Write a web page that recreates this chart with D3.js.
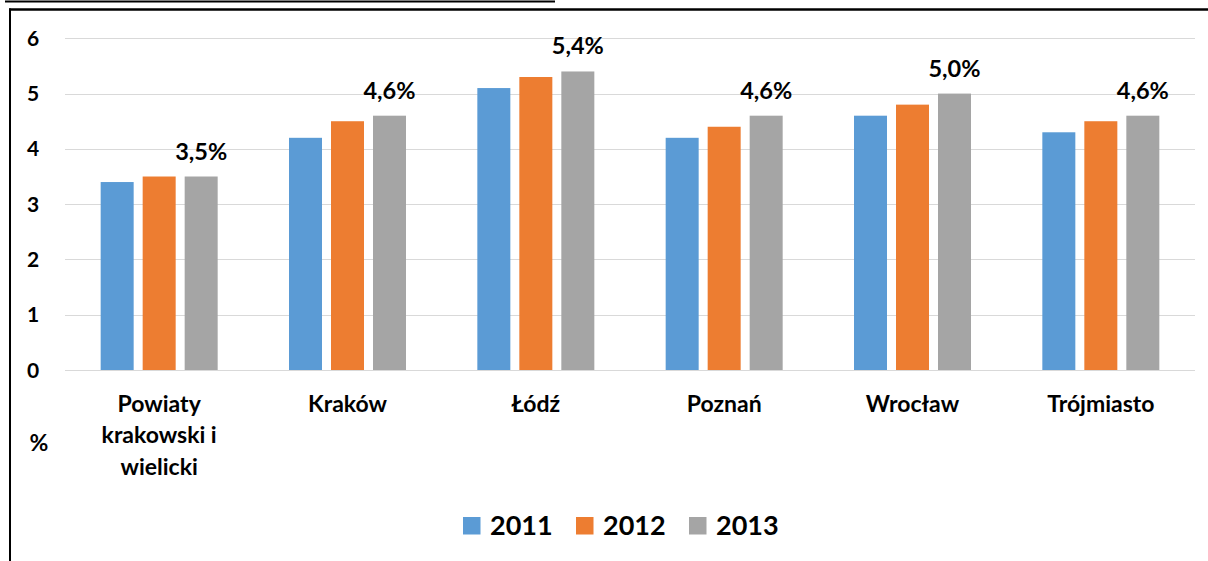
<!DOCTYPE html>
<html>
<head>
<meta charset="utf-8">
<script src="https://d3js.org/d3.v7.min.js"></script>
<style>
  body { margin: 0; background: #fff; }
  svg { display: block; font-family: Lato, "Open Sans", sans-serif; font-weight: bold; }
  .grid line { stroke: #d9d9d9; stroke-width: 1; }
</style>
</head>
<body>
<svg width="1208" height="561"></svg>
<script>
// chart data
var categories = ["Powiaty krakowski i wielicki", "Kraków", "Łódź", "Poznań", "Wrocław", "Trójmiasto"];
var years = ["2011", "2012", "2013"];
var v2011 = [3.4, 4.2, 5.1, 4.2, 4.6, 4.3];
var v2012 = [3.5, 4.5, 5.3, 4.4, 4.8, 4.5];
var v2013 = [3.5, 4.6, 5.4, 4.6, 5.0, 4.6];
var yTicks = [0, 1, 2, 3, 4, 5, 6];
var colors = ["#5b9bd5", "#ed7d31", "#a5a5a5"];

var series = [v2011, v2012, v2013];
var svg = d3.select("svg");

// frame pieces
svg.append("line").attr("x1", 5).attr("x2", 555).attr("y1", 1.5).attr("y2", 1.5)
  .attr("stroke", "#000").attr("stroke-width", 2);
svg.append("line").attr("x1", 9).attr("x2", 1208).attr("y1", 9.5).attr("y2", 9.5)
  .attr("stroke", "#000").attr("stroke-width", 2.5);
svg.append("line").attr("x1", 10).attr("x2", 10).attr("y1", 8.5).attr("y2", 561)
  .attr("stroke", "#000").attr("stroke-width", 2);

var x0 = d3.scaleBand().domain(categories).range([65, 1195]).padding(0);
var groupW = 117;
var x1 = d3.scaleBand().domain(years).range([0, groupW]).paddingInner(9 / 42).paddingOuter(0);
var y = d3.scaleLinear().domain([0, 6]).range([370, 38.3]);

// gridlines
svg.append("g").attr("class", "grid")
  .selectAll("line").data(yTicks).enter().append("line")
  .attr("x1", 65).attr("x2", 1195)
  .attr("y1", function(d){ return Math.round(y(d)) + 0.5; })
  .attr("y2", function(d){ return Math.round(y(d)) + 0.5; });

// y tick labels
svg.append("g").selectAll("text").data(yTicks).enter().append("text")
  .attr("x", 33).attr("y", function(d){ return y(d) + 7.5; })
  .attr("text-anchor", "middle").attr("font-size", 21).attr("fill", "#000")
  .text(function(d){ return d; });

// bars
var groups = svg.append("g").selectAll("g").data(categories).enter().append("g")
  .attr("transform", function(d){ return "translate(" + (x0(d) + (x0.bandwidth() - groupW) / 2) + ",0)"; });

groups.selectAll("rect")
  .data(function(d, i){ return years.map(function(yr, j){ return {year: yr, j: j, v: series[j][i]}; }); })
  .enter().append("rect")
  .attr("x", function(d){ return x1(d.year); })
  .attr("width", x1.bandwidth())
  .attr("y", function(d){ return y(d.v); })
  .attr("height", function(d){ return y(0) - y(d.v); })
  .attr("fill", function(d){ return colors[d.j]; });

// value labels on 2013 bars
groups.append("text")
  .attr("x", x1("2013") + x1.bandwidth() / 2)
  .attr("y", function(d, i){ return y(v2013[i]) - 17; })
  .attr("text-anchor", "middle").attr("font-size", 23.5).attr("fill", "#000")
  .text(function(d, i){ return v2013[i].toFixed(1).replace(".", ",") + "%"; });

// category labels
var catLines = [["Powiaty", "krakowski i", "wielicki"], ["Kraków"], ["Łódź"], ["Poznań"], ["Wrocław"], ["Trójmiasto"]];
svg.append("g").selectAll("text").data(categories).enter().append("text")
  .attr("x", function(d){ return x0(d) + x0.bandwidth() / 2; })
  .attr("y", 411.5)
  .attr("text-anchor", "middle").attr("font-size", 23).attr("fill", "#000")
  .each(function(d, i){
    var t = d3.select(this);
    catLines[i].forEach(function(l, k){
      t.append("tspan").attr("x", x0(d) + x0.bandwidth() / 2).attr("y", 411.5 + k * 31.5).text(l);
    });
  });

// axis unit
svg.append("text").attr("x", 39).attr("y", 451).attr("text-anchor", "middle")
  .attr("font-size", 23).attr("fill", "#000").text("%");

// legend
var legendX = [463, 576, 689];
var legend = svg.append("g").selectAll("g").data(years).enter().append("g")
  .attr("transform", function(d, i){ return "translate(" + legendX[i] + ",517)"; });
legend.append("rect").attr("width", 17.5).attr("height", 17.5)
  .attr("fill", function(d, i){ return colors[i]; });
legend.append("text").attr("x", 27).attr("y", 18).attr("font-size", 27).attr("fill", "#000")
  .text(function(d){ return d; });
</script>
</body>
</html>
